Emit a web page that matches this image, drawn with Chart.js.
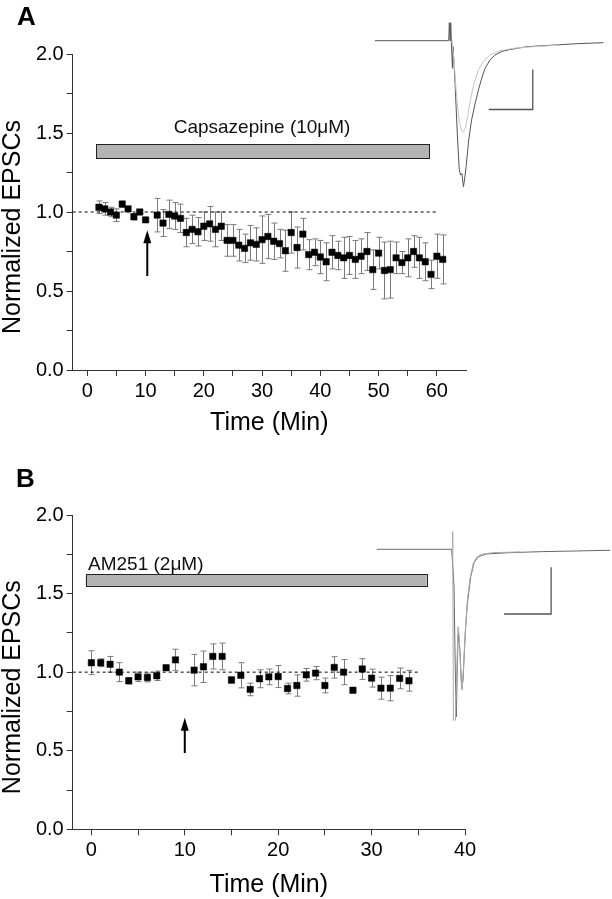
<!DOCTYPE html>
<html>
<head>
<meta charset="utf-8">
<script src="https://cdn.jsdelivr.net/npm/chart.js@4.4.0/dist/chart.umd.min.js"></script>
<style>
html, body { margin: 0; padding: 0; background: #fff; }
#wrap { position: relative; width: 612px; height: 899px; overflow: hidden; font-family: "Liberation Sans", Arial, sans-serif; }
canvas { position: absolute; }
.panel { position: absolute; font-weight: bold; font-size: 26px; line-height: 26px; color: #000; }
</style>
</head>
<body>
<div id="wrap">
  <canvas id="grA" style="left:0;top:0" width="612" height="440"></canvas>
  <canvas id="grB" style="left:0;top:450px" width="612" height="449"></canvas>
  <canvas id="trA" style="left:360px;top:0" width="252" height="200"></canvas>
  <canvas id="trB" style="left:360px;top:520px" width="252" height="260"></canvas>
  <div class="panel" style="left:17px;top:3px">A</div>
  <div class="panel" style="left:16px;top:465px">B</div>
</div>
<script>
// ---- panel A : capsazepine ----
var timeA = [2,3,4,5,6,7,8,9,10,12,13,14,15,16,17,18,19,20,21,22,23,24,25,26,27,28,29,30,31,32,33,34,35,36,37,38,39,40,41,42,43,44,45,46,47,48,49,50,51,52,53,54,55,56,57,58,59,60,61];
var epscA = [1.03,1.02,1.00,0.98,1.05,1.02,0.97,1.00,0.95,
	0.98,0.93,0.985,0.975,0.96,0.87,0.89,0.875,0.91,0.925,0.89,0.91,0.82,0.82,0.79,0.77,0.805,0.795,0.825,0.845,0.815,0.80,0.755,0.87,0.775,0.86,
	0.73,0.745,0.715,0.685,0.745,0.725,0.71,0.725,0.70,0.72,0.75,0.635,0.74,0.63,0.635,0.71,0.68,0.71,0.75,0.71,0.685,0.605,0.72,0.70];
var errA = [0.04,0.04,0.03,0.04,0.02,0.015,0.02,0.01,0.01,
	0.106,0.085,0.09,0.085,0.09,0.09,0.09,0.09,0.09,0.11,0.11,0.09,0.10,0.10,0.10,0.09,0.11,0.105,0.15,0.14,0.115,0.09,0.13,0.13,0.13,0.10,
	0.095,0.085,0.105,0.12,0.105,0.09,0.13,0.12,0.12,0.11,0.12,0.125,0.10,0.18,0.18,0.10,0.07,0.12,0.10,0.13,0.12,0.09,0.14,0.155];
var drugA = [1.5, 58.7];        // application period (min)
var arrowA = 10.3;
var baseEndA = 60.3;

// ---- panel B : AM251 ----
var timeB = [0,1,2,3,4,5,6,7,8,9,11,12,13,14,15,16,17,18,19,20,21,22,23,24,25,26,27,28,29,30,31,32,33,34];
var epscB = [1.06,1.06,1.05,1.00,0.945,0.97,0.966,0.977,1.028,1.078,
	1.013,1.034,1.10,1.10,0.95,0.98,0.89,0.958,0.97,0.972,0.896,0.915,0.983,0.994,0.915,1.03,1.00,0.885,1.02,0.962,0.898,0.898,0.96,0.945];
var errB = [0.076,0.025,0.05,0.06,0.02,0.03,0.028,0.03,0.01,0.068,
	0.10,0.10,0.08,0.085,0.02,0.08,0.04,0.057,0.05,0.07,0.034,0.068,0.04,0.042,0.047,0.068,0.08,0.01,0.066,0.057,0.07,0.08,0.066,0.066];
var drugB = [-0.6, 35.9];
var arrowB = 10;
var baseEndB = 35;

var yTicks = [0,0.25,0.5,0.75,1,1.25,1.5,1.75,2];
var yLabels = [0,0.5,1,1.5,2];
var xTicksA = [0,5,10,15,20,25,30,35,40,45,50,55,60];
var xLabelsA = [0,10,20,30,40,50,60];
var xTicksB = [0,5,10,15,20,25,30,35,40];
var xLabelsB = [0,10,20,30,40];

// ---- inset traces (ms, pA) ----
var trA_ctl_t = [0,33.5,33.8,34.1,34.4,34.7,35.2,35.5,36.4,37.4,38.3,38.9,39.5,40.2,40.6,41.4,42.6,43.9,45.5,47.0,48.5,50.0,52.3,54.5,57.6,61.4,68.9,78.0,91.7,103.8];
var trA_ctl_i = [0,0,45,0,45,-2.5,-69,-15,-107,-232,-323,-336,-332,-365,-352,-315,-248,-198,-157,-123,-94,-69,-48,-36,-27,-22,-15,-12,-7.5,-5];
var trA_drug_t = [35.0,35.9,37.1,38.3,39.4,40.2,41.1,42.1,43.5,45.0,47.0,49.2,52.3,56.8,62.9,72.0,84.1];
var trA_drug_i = [0,-48,-140,-202,-225,-228,-219,-190,-144,-107,-73,-52,-36,-25,-19,-15,-11];
var trB_ctl_t = [0,31.9,32.9,33.5,33.9,34.3,34.75,35.46,36.17,36.74,37.59,38.58,40.0,41.42,43.26,46.81,56.74,70.92,85.1,99.3];
var trB_ctl_i = [0,0,-80,-280,-358.6,-244.3,-172.9,-222.9,-297.9,-280,-187.1,-115.7,-58.6,-28.6,-15.7,-10,-7.1,-5,-3.6,-2.1];
var trB_drug_t = [32.06,32.34,32.62,33.48,34.04,34.61,35.18,35.74,36.31,36.88,37.73,38.58,39.72,41.13,42.55,44.68,49.65,61.0];
var trB_drug_i = [0,37.9,-365.7,-365.7,-258.6,-165.7,-194.3,-265.7,-301.4,-258.6,-172.9,-108.6,-62.1,-30,-17.1,-10.7,-7.1,-5.7];
var barA_t = [51.7,71.7,71.7], barA_i = [-172,-172,-72];
var barB_t = [54.2,74.2,74.2], barB_i = [-138.6,-138.6,-38.6];

var FONT = '"Liberation Sans", Arial, sans-serif';

function pts(xs, ys) {
	var out = [];
	for (var i = 0; i < xs.length; i++) out.push({x: xs[i], y: ys[i]});
	return out;
}

function overlay(c) {
	return {
		id: 'overlay',
		beforeDatasetsDraw: function(chart) {
			var ctx = chart.ctx, x = chart.scales.x, y = chart.scales.y;
			ctx.save();
			// drug bar
			var bx0 = x.getPixelForValue(c.drug[0]), bx1 = x.getPixelForValue(c.drug[1]);
			var by0 = y.getPixelForValue(c.band[1]), by1 = y.getPixelForValue(c.band[0]);
			ctx.fillStyle = '#b3b3b3';
			ctx.fillRect(bx0, by0, bx1 - bx0, by1 - by0);
			ctx.strokeStyle = '#222';
			ctx.lineWidth = 1;
			ctx.strokeRect(Math.round(bx0) + 0.5, Math.round(by0) + 0.5, Math.round(bx1 - bx0), Math.round(by1 - by0));
			ctx.fillStyle = '#111';
			ctx.font = '19px ' + FONT;
			ctx.textAlign = c.labelAlign;
			ctx.textBaseline = 'middle';
			ctx.fillText(c.label, x.getPixelForValue(c.labelAt[0]), y.getPixelForValue(c.labelAt[1]));
			// error bars
			ctx.strokeStyle = '#7a7a7a';
			ctx.lineWidth = 1;
			for (var i = 0; i < c.t.length; i++) {
				var px = Math.round(x.getPixelForValue(c.t[i])) + 0.5;
				var top = y.getPixelForValue(c.v[i] + c.e[i]);
				var bot = y.getPixelForValue(c.v[i] - c.e[i]);
				ctx.beginPath();
				ctx.moveTo(px, top); ctx.lineTo(px, bot);
				ctx.moveTo(px - 3, top); ctx.lineTo(px + 3, top);
				ctx.moveTo(px - 3, bot); ctx.lineTo(px + 3, bot);
				ctx.stroke();
			}
			// arrow
			var ax = x.getPixelForValue(c.arrow[0]);
			var ay0 = y.getPixelForValue(c.arrow[1]), ay1 = y.getPixelForValue(c.arrow[2]);
			ctx.strokeStyle = '#000';
			ctx.fillStyle = '#000';
			ctx.lineWidth = 2;
			ctx.beginPath();
			ctx.moveTo(ax, ay0); ctx.lineTo(ax, ay1 + 10);
			ctx.stroke();
			ctx.beginPath();
			ctx.moveTo(ax, ay1); ctx.lineTo(ax - 4, ay1 + 13); ctx.lineTo(ax + 4, ay1 + 13);
			ctx.closePath();
			ctx.fill();
			ctx.restore();
		},
		afterDraw: function(chart) {
			var ctx = chart.ctx, a = chart.chartArea;
			ctx.save();
			ctx.translate(13, (a.top + a.bottom) / 2 + 15);
			ctx.rotate(-Math.PI / 2);
			ctx.fillStyle = '#000';
			ctx.font = '25px ' + FONT;
			ctx.textAlign = 'center';
			ctx.textBaseline = 'middle';
			ctx.fillText('Normalized EPSCs', 0, 0);
			ctx.restore();
		}
	};
}

function mainChart(id, c) {
	return new Chart(document.getElementById(id), {
		type: 'scatter',
		data: {
			datasets: [{
				data: [{x: c.xmin, y: 1}, {x: c.baseEnd, y: 1}],
				showLine: true,
				borderColor: '#000',
				borderWidth: 1,
				borderDash: [3, 3],
				pointRadius: 0
			}, {
				data: pts(c.t, c.v),
				pointStyle: 'rect',
				pointRadius: 4.5,
				backgroundColor: '#000',
				borderColor: '#000',
				borderWidth: 0.5
			}]
		},
		options: {
			responsive: false,
			animation: false,
			events: [],
			layout: {padding: {top: c.top, right: c.right, left: 0, bottom: 0}},
			plugins: {legend: {display: false}, tooltip: {enabled: false}},
			scales: {
				x: {
					type: 'linear',
					min: c.xmin, max: c.xmax,
					afterFit: function(s) { s.height = c.xh; },
					afterBuildTicks: function(s) { s.ticks = c.xTicks.map(function(v) { return {value: v}; }); },
					grid: {drawOnChartArea: false, color: '#333', tickLength: 6},
					border: {color: '#333', width: 1},
					ticks: {
						autoSkip: false, maxRotation: 0, padding: 3, color: '#000',
						font: {size: 20, family: FONT},
						callback: function(v) { return c.xLabels.indexOf(v) >= 0 ? String(v) : ''; }
					},
					title: {display: true, text: 'Time (Min)', color: '#000', font: {size: 25, family: FONT, lineHeight: 1}, padding: {top: 0, bottom: c.titlePad}}
				},
				y: {
					type: 'linear',
					min: 0, max: 2,
					afterFit: function(s) { s.width = 72.7; },
					afterBuildTicks: function(s) { s.ticks = yTicks.map(function(v) { return {value: v}; }); },
					grid: {drawOnChartArea: false, color: '#333', tickLength: 6},
					border: {color: '#333', width: 1},
					ticks: {
						autoSkip: false, padding: 3, color: '#000',
						font: {size: 20, family: FONT},
						callback: function(v) { return yLabels.indexOf(v) >= 0 ? v.toFixed(1) : ''; }
					}
				}
			}
		},
		plugins: [overlay(c)]
	});
}

mainChart('grA', {
	t: timeA, v: epscA, e: errA,
	drug: drugA, band: [1.34, 1.43],
	label: 'Capsazepine (10\u03bcM)', labelAt: [30, 1.535], labelAlign: 'center',
	arrow: [arrowA, 0.595, 0.885],
	xmin: -2.5, xmax: 65, baseEnd: baseEndA,
	xTicks: xTicksA, xLabels: xLabelsA,
	top: 54, right: 146, xh: 70, titlePad: 4.5
});

mainChart('grB', {
	t: timeB, v: epscB, e: errB,
	drug: drugB, band: [1.549, 1.623],
	label: 'AM251 (2\u03bcM)', labelAt: [-0.36, 1.683], labelAlign: 'left',
	arrow: [arrowB, 0.485, 0.71],
	xmin: -2, xmax: 40, baseEnd: baseEndB,
	xTicks: xTicksB, xLabels: xLabelsB,
	top: 65, right: 147, xh: 69.7, titlePad: 1.5
});

function traceChart(id, c) {
	var line = function(d, col, w) {
		return {data: d, showLine: true, borderColor: col, borderWidth: w, pointRadius: 0, tension: 0};
	};
	return new Chart(document.getElementById(id), {
		type: 'scatter',
		data: {
			datasets: [
				line(pts(c.drugT, c.drugI), c.drugCol, 1),
				line(pts(c.ctlT, c.ctlI), c.ctlCol, 1),
				line(pts(c.barT, c.barI), '#555', 1.3)
			]
		},
		options: {
			responsive: false,
			animation: false,
			events: [],
			layout: {padding: 0},
			plugins: {legend: {display: false}, tooltip: {enabled: false}},
			scales: {
				x: {type: 'linear', display: false, min: c.xr[0], max: c.xr[1]},
				y: {type: 'linear', display: false, min: c.yr[0], max: c.yr[1]}
			}
		}
	});
}

traceChart('trA', {
	ctlT: trA_ctl_t, ctlI: trA_ctl_i, ctlCol: '#555',
	drugT: trA_drug_t, drugI: trA_drug_i, drugCol: '#c4c4c4',
	barT: barA_t, barI: barA_i,
	xr: [-6.8, 107.7], yr: [-398.25, 101.75]
});

traceChart('trB', {
	ctlT: trB_ctl_t, ctlI: trB_ctl_i, ctlCol: '#666',
	drugT: trB_drug_t, drugI: trB_drug_i, drugCol: '#aaa',
	barT: barB_t, barI: barB_i,
	xr: [-7.1, 100.1], yr: [-494, 62.7]
});
</script>
</body>
</html>
